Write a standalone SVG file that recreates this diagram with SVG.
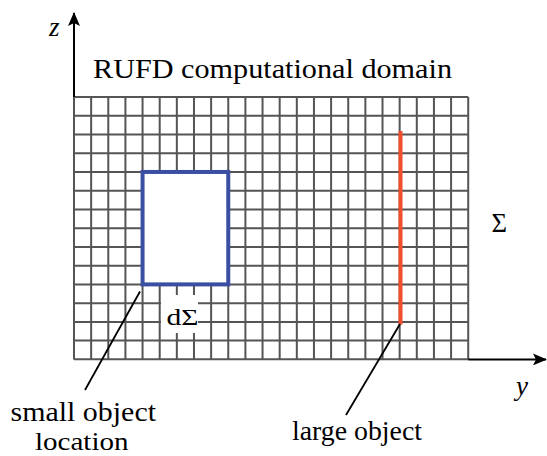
<svg xmlns="http://www.w3.org/2000/svg" width="547" height="456" viewBox="0 0 547 456">
<style>
.grid line{stroke:#555;stroke-width:2}
.axis{stroke:#000;stroke-width:2;fill:none}
.lead{stroke:#000;stroke-width:1.8;fill:none}
.t{font-family:'Liberation Serif','Times New Roman',Times,'Nimbus Roman','Nimbus Roman No9 L',FreeSerif,'Noto Serif','DejaVu Serif',Tinos,serif;fill:#000}
.it{font-style:italic}
</style>
<defs>
<marker id="ah" markerWidth="14" markerHeight="12" refX="13" refY="6" orient="auto" markerUnits="userSpaceOnUse">
<path d="M0,0 L14,6 L0,12 L3,6 Z" fill="#000"/>
</marker>
</defs>
<rect width="547" height="456" fill="#fff"/>
<g id="grid" class="grid">
<line x1="74" y1="97" x2="74" y2="359.4"/>
<line x1="91.14" y1="97" x2="91.14" y2="359.4"/>
<line x1="108.28" y1="97" x2="108.28" y2="359.4"/>
<line x1="125.42" y1="97" x2="125.42" y2="359.4"/>
<line x1="142.56" y1="97" x2="142.56" y2="359.4"/>
<line x1="159.7" y1="97" x2="159.7" y2="359.4"/>
<line x1="176.84" y1="97" x2="176.84" y2="359.4"/>
<line x1="193.98" y1="97" x2="193.98" y2="359.4"/>
<line x1="211.12" y1="97" x2="211.12" y2="359.4"/>
<line x1="228.26" y1="97" x2="228.26" y2="359.4"/>
<line x1="245.4" y1="97" x2="245.4" y2="359.4"/>
<line x1="262.54" y1="97" x2="262.54" y2="359.4"/>
<line x1="279.68" y1="97" x2="279.68" y2="359.4"/>
<line x1="296.82" y1="97" x2="296.82" y2="359.4"/>
<line x1="313.96" y1="97" x2="313.96" y2="359.4"/>
<line x1="331.1" y1="97" x2="331.1" y2="359.4"/>
<line x1="348.24" y1="97" x2="348.24" y2="359.4"/>
<line x1="365.38" y1="97" x2="365.38" y2="359.4"/>
<line x1="382.52" y1="97" x2="382.52" y2="359.4"/>
<line x1="399.66" y1="97" x2="399.66" y2="359.4"/>
<line x1="416.8" y1="97" x2="416.8" y2="359.4"/>
<line x1="433.94" y1="97" x2="433.94" y2="359.4"/>
<line x1="451.08" y1="97" x2="451.08" y2="359.4"/>
<line x1="468.22" y1="97" x2="468.22" y2="359.4"/>
<line x1="74" y1="97" x2="468.22" y2="97"/>
<line x1="74" y1="115.74" x2="468.22" y2="115.74"/>
<line x1="74" y1="134.48" x2="468.22" y2="134.48"/>
<line x1="74" y1="153.22" x2="468.22" y2="153.22"/>
<line x1="74" y1="171.96" x2="468.22" y2="171.96"/>
<line x1="74" y1="190.7" x2="468.22" y2="190.7"/>
<line x1="74" y1="209.44" x2="468.22" y2="209.44"/>
<line x1="74" y1="228.18" x2="468.22" y2="228.18"/>
<line x1="74" y1="246.92" x2="468.22" y2="246.92"/>
<line x1="74" y1="265.66" x2="468.22" y2="265.66"/>
<line x1="74" y1="284.4" x2="468.22" y2="284.4"/>
<line x1="74" y1="303.14" x2="468.22" y2="303.14"/>
<line x1="74" y1="321.88" x2="468.22" y2="321.88"/>
<line x1="74" y1="340.62" x2="468.22" y2="340.62"/>
<line x1="74" y1="359.36" x2="468.22" y2="359.36"/>
</g>
<g id="axes">
<line class="axis" x1="74" y1="97" x2="74" y2="13" marker-end="url(#ah)"/>
<line class="axis" x1="468.22" y1="359.4" x2="546" y2="359.4" marker-end="url(#ah)"/>
<text class="t it" x="49" y="35.5" font-size="27">z</text>
<text class="t it" x="516" y="395" font-size="27">y</text>
</g>
<g id="domain-label">
<text class="t" x="93" y="78" font-size="27" textLength="359" lengthAdjust="spacingAndGlyphs">RUFD computational domain</text>
<text class="t" x="491.5" y="232" font-size="27" textLength="15.5" lengthAdjust="spacingAndGlyphs">Σ</text>
</g>
<g id="small-object">
<rect x="142.56" y="171.96" width="85.7" height="112.44" fill="#fff" stroke="#3a4ea2" stroke-width="4"/>
<rect x="161" y="295" width="37" height="38" fill="#fff"/>
<text class="t" x="166.5" y="325" font-size="23" textLength="32" lengthAdjust="spacingAndGlyphs">dΣ</text>
</g>
<g id="large-object">
<line x1="400.5" y1="131" x2="400.5" y2="324.5" stroke="#f04e2d" stroke-width="4"/>
</g>
<g id="connectors">
<line class="lead" x1="140" y1="291.5" x2="85" y2="390"/>
<line class="lead" x1="400" y1="324" x2="346" y2="415"/>
</g>
<g id="labels">
<text class="t" x="10.5" y="421" font-size="27" textLength="145.5" lengthAdjust="spacingAndGlyphs">small object</text>
<text class="t" x="35" y="450" font-size="26" textLength="93.5" lengthAdjust="spacingAndGlyphs">location</text>
<text class="t" x="292" y="440" font-size="27" textLength="130" lengthAdjust="spacingAndGlyphs">large object</text>
</g>
</svg>
